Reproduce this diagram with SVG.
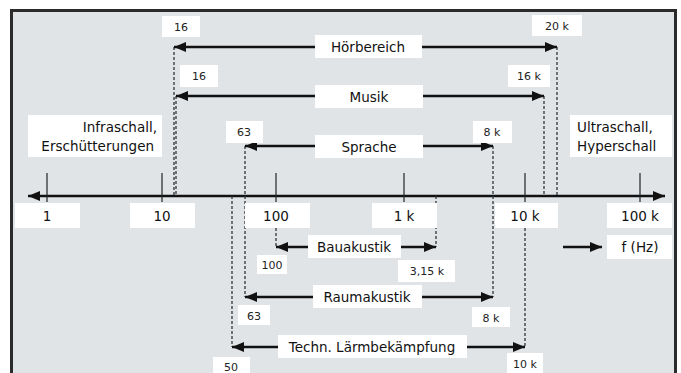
<svg xmlns="http://www.w3.org/2000/svg" width="681" height="373" viewBox="0 0 681 373">
  <defs>
    <marker id="head" viewBox="0 0 12 10" refX="12" refY="5" markerWidth="12" markerHeight="10" markerUnits="userSpaceOnUse" orient="auto-start-reverse">
      <path d="M0,0 L12,5 L0,10 z" fill="#111"/>
    </marker>
    <style>
      .lbl { fill: #fff; }
      .t { font-family: "DejaVu Sans", "Liberation Sans", sans-serif; font-size: 13.5px; fill: #111; text-anchor: middle; }
      .s { font-family: "DejaVu Sans", "Liberation Sans", sans-serif; font-size: 11px; fill: #222; text-anchor: middle; }
      .arr { stroke: #111; stroke-width: 2.5; fill: none; marker-end: url(#head); }
      .arr2 { stroke: #111; stroke-width: 2.5; fill: none; marker-start: url(#head); marker-end: url(#head); }
      .dot { stroke: #333; stroke-width: 1.3; stroke-dasharray: 3 2; fill: none; }
      .tick { stroke: #222; stroke-width: 1.2; }
    </style>
  </defs>

  <!-- frame -->
  <rect width="681" height="373" fill="#fff"/>
  <rect x="11.5" y="10.5" width="664" height="380" fill="#e1e4e7" stroke="#2b2b2b" stroke-width="3"/>

  <!-- connectors: axis, ranges, reference lines -->
  <g id="connectors">
    <line class="arr2" x1="28" y1="196" x2="665" y2="196"/>
    <line class="tick" x1="47" y1="173" x2="47" y2="202"/>
    <line class="tick" x1="162" y1="173" x2="162" y2="202"/>
    <line class="tick" x1="276" y1="173" x2="276" y2="202"/>
    <line class="tick" x1="404" y1="173" x2="404" y2="202"/>
    <line class="tick" x1="525" y1="173" x2="525" y2="202"/>
    <line class="tick" x1="640" y1="173" x2="640" y2="202"/>

    <line class="dot" x1="174" y1="47" x2="174" y2="196"/>
    <line class="dot" x1="557" y1="47" x2="557" y2="196"/>
    <line class="dot" x1="176" y1="96" x2="176" y2="196"/>
    <line class="dot" x1="544" y1="96" x2="544" y2="196"/>
    <line class="dot" x1="245" y1="146" x2="245" y2="297"/>
    <line class="dot" x1="493" y1="146" x2="493" y2="297"/>
    <line class="dot" x1="232" y1="196" x2="232" y2="347"/>
    <line class="dot" x1="276" y1="228" x2="276" y2="247"/>
    <line class="dot" x1="436" y1="196" x2="436" y2="247"/>
    <line class="dot" x1="525" y1="228" x2="525" y2="347"/>

    <line class="arr2" x1="174" y1="47" x2="557" y2="47"/>
    <line class="arr2" x1="176" y1="96" x2="544" y2="96"/>
    <line class="arr2" x1="245" y1="146" x2="493" y2="146"/>
    <line class="arr2" x1="276" y1="247" x2="436" y2="247"/>
    <line class="arr2" x1="245" y1="297" x2="493" y2="297"/>
    <line class="arr2" x1="232" y1="347" x2="525" y2="347"/>
    <line class="arr" x1="563" y1="247" x2="602" y2="247"/>
  </g>

  <!-- axis labels -->
  <g id="tick-labels">
    <rect class="lbl" x="15" y="203" width="65" height="25"/>
    <text class="t" x="47" y="221">1</text>
    <rect class="lbl" x="130" y="203" width="65" height="25"/>
    <text class="t" x="162" y="221">10</text>
    <rect class="lbl" x="245" y="203" width="65" height="25"/>
    <text class="t" x="276" y="221">100</text>
    <rect class="lbl" x="372" y="203" width="65" height="25"/>
    <text class="t" x="404" y="221">1 k</text>
    <rect class="lbl" x="495" y="203" width="63" height="25"/>
    <text class="t" x="525" y="221">10 k</text>
    <rect class="lbl" x="607" y="203" width="65" height="25"/>
    <text class="t" x="640" y="221">100 k</text>
  </g>

  <g id="unit">
    <rect class="lbl" x="607" y="235" width="65" height="24"/>
    <text class="t" x="640" y="252">f (Hz)</text>
  </g>

  <g id="infraschall">
    <rect class="lbl" x="28" y="115" width="134" height="42"/>
    <text class="t" x="157" y="132" style="text-anchor:end">Infraschall,</text>
    <text class="t" x="154" y="151" style="text-anchor:end">Erschütterungen</text>
  </g>

  <g id="ultraschall">
    <rect class="lbl" x="570" y="115" width="102" height="42"/>
    <text class="t" x="577" y="132" style="text-anchor:start">Ultraschall,</text>
    <text class="t" x="577" y="151" style="text-anchor:start">Hyperschall</text>
  </g>

  <g id="hoerbereich">
    <rect class="lbl" x="315" y="35" width="107" height="23"/>
    <text class="t" x="368" y="52">Hörbereich</text>
    <rect class="lbl" x="162" y="16" width="38" height="21"/>
    <text class="s" x="181" y="31">16</text>
    <rect class="lbl" x="532" y="15" width="50" height="21"/>
    <text class="s" x="557" y="30">20 k</text>
  </g>

  <g id="musik">
    <rect class="lbl" x="315" y="85" width="108" height="23"/>
    <text class="t" x="369" y="102">Musik</text>
    <rect class="lbl" x="180" y="65" width="38" height="22"/>
    <text class="s" x="199" y="80">16</text>
    <rect class="lbl" x="508" y="65" width="42" height="22"/>
    <text class="s" x="529" y="80">16 k</text>
  </g>

  <g id="sprache">
    <rect class="lbl" x="315" y="135" width="108" height="23"/>
    <text class="t" x="369" y="152">Sprache</text>
    <rect class="lbl" x="226" y="121" width="37" height="22"/>
    <text class="s" x="244" y="136">63</text>
    <rect class="lbl" x="473" y="121" width="39" height="22"/>
    <text class="s" x="492" y="136">8 k</text>
  </g>

  <g id="bauakustik">
    <rect class="lbl" x="308" y="235" width="93" height="23"/>
    <text class="t" x="354" y="252">Bauakustik</text>
    <rect class="lbl" x="257" y="255" width="30" height="19"/>
    <text class="s" x="272" y="269">100</text>
    <rect class="lbl" x="398" y="260" width="57" height="22"/>
    <text class="s" x="427" y="275">3,15 k</text>
  </g>

  <g id="raumakustik">
    <rect class="lbl" x="313" y="285" width="109" height="23"/>
    <text class="t" x="367" y="302">Raumakustik</text>
    <rect class="lbl" x="238" y="305" width="32" height="20"/>
    <text class="s" x="254" y="320">63</text>
    <rect class="lbl" x="472" y="307" width="38" height="20"/>
    <text class="s" x="491" y="322">8 k</text>
  </g>

  <g id="laermbekaempfung">
    <rect class="lbl" x="278" y="335" width="189" height="23"/>
    <text class="t" x="372" y="352">Techn. Lärmbekämpfung</text>
    <rect class="lbl" x="213" y="357" width="37" height="20"/>
    <text class="s" x="231" y="371">50</text>
    <rect class="lbl" x="507" y="353" width="36" height="22"/>
    <text class="s" x="525" y="368">10 k</text>
  </g>
</svg>
